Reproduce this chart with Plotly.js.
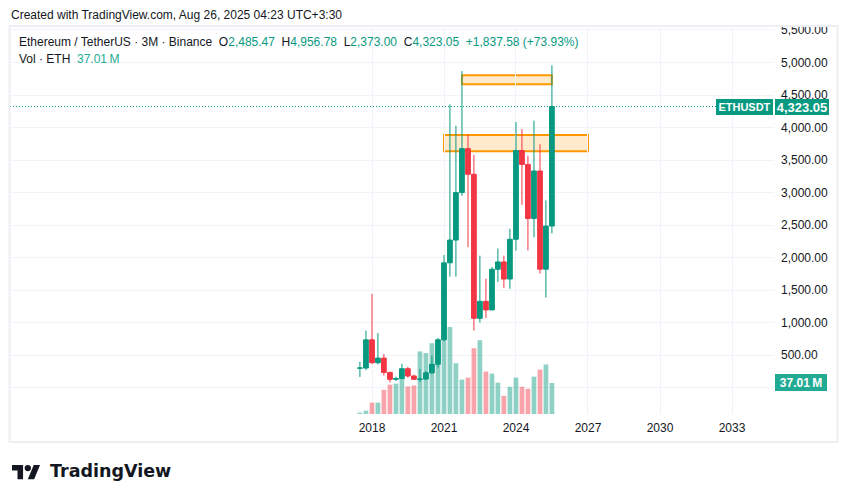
<!DOCTYPE html>
<html>
<head>
<meta charset="utf-8">
<script src="https://cdn.plot.ly/plotly-3.0.1.min.js"></script>
<style>
  html, body { margin: 0; padding: 0; background: #ffffff; }
  #chart { width: 848px; height: 502px; }
</style>
</head>
<body>
<div id="chart"></div>
<script>
// ---------------- DATA (quarterly ETH/USDT, Binance) ----------------
const dates = [
  '2017-07-01','2017-10-01',
  '2018-01-01','2018-04-01','2018-07-01','2018-10-01',
  '2019-01-01','2019-04-01','2019-07-01','2019-10-01',
  '2020-01-01','2020-04-01','2020-07-01','2020-10-01',
  '2021-01-01','2021-04-01','2021-07-01','2021-10-01',
  '2022-01-01','2022-04-01','2022-07-01','2022-10-01',
  '2023-01-01','2023-04-01','2023-07-01','2023-10-01',
  '2024-01-01','2024-04-01','2024-07-01','2024-10-01',
  '2025-01-01','2025-04-01','2025-07-01'
];
const opens = [301, 302, 736, 384, 455, 235, 128, 141, 292, 180, 129, 133, 228, 360,
  737, 1920, 2270, 3000, 3676, 3282, 1067, 1328, 1196, 1821, 1934, 1671,
  2282, 3647, 3433, 2602, 3332, 1822, 2485.47];
const highs = [400, 880, 1440, 840, 518, 245, 170, 369, 320, 200, 288, 255, 488, 764,
  2040, 4356, 4027, 4868, 3896, 3580, 2030, 1678, 1857, 2141, 2029, 2445,
  4085, 3977, 3563, 4107, 3744, 2879, 4956.78];
const lows = [165, 272, 366, 360, 185, 82, 101, 132, 152, 117, 86, 118, 210, 310,
  714, 1707, 1707, 2950, 2160, 880, 1000, 1073, 1190, 1626, 1531, 1521,
  2107, 2810, 2111, 2310, 1754, 1385, 2373];
const closes = [302, 736, 384, 455, 235, 128, 141, 292, 180, 129, 133, 228, 360, 737,
  1920, 2270, 3000, 3676, 3282, 1067, 1328, 1196, 1821, 1934, 1671, 2282,
  3647, 3433, 2602, 3332, 1822, 2485.47, 4323.05];
// volume in millions of ETH
const volumes = [1.6, 4.0, 13.6, 13.6, 28.9, 35.0, 36.2, 42.2, 32.9, 34.1, 74.7, 72.7, 84.4, 83,
  94, 103.7, 60.6, 41.0, 43.4, 78.4, 88.0, 50.6, 48.2, 37.4, 21.7, 32.5,
  43.4, 32.5, 30.1, 44.6, 53.0, 59.1, 37.01];

const timeTickVals = ['2018-01-01','2021-01-01','2024-01-01','2027-01-01','2030-01-01','2033-01-01'];
const timeTickText = ['2018','2021','2024','2027','2030','2033'];
const priceTickVals = [0, 500, 1000, 1500, 2000, 2500, 3000, 3500, 4000, 4500, 5000, 5500];
const priceTickText = ['', '500.00', '1,000.00', '1,500.00', '2,000.00', '2,500.00', '3,000.00',
  '3,500.00', '4,000.00', '4,500.00', '5,000.00', '5,500.00'];

const lastPrice = 4323.05;
const lastVolume = 37.01;
const lastPriceText = '4,323.05';
const lastVolumeText = '37.01\u2009M';
const symbolText = 'ETHUSDT';

// drawn rectangles (zones)
const zoneX0 = ['2021-10-01', '2021-01-01'];
const zoneX1 = ['2025-07-01', '2027-01-01'];
const zoneY0 = [4665, 3635];
const zoneY1 = [4803, 3885];

// ---------------- STYLE / GEOMETRY ----------------
const W = 848, H = 502;
const PL = 10, PR = 774, PT = 25, PB = 414;
const UP = '#089981', DOWN = '#F23645';
const UPV = 'rgba(8,153,129,0.45)', DOWNV = 'rgba(242,54,69,0.45)';
const TXT = '#131722';
const GRID = '#F0F3FA';
const FONT = 'Liberation Sans, Arial, Helvetica, sans-serif';

const px = x => (x - PL) / (PR - PL);
const py = y => (PB - y) / (PB - PT);

const DAY = 86400000;
const YEAR = 365.2425 * DAY;
const t2018 = Date.UTC(2018, 0, 1);
const xRange = [t2018 - (372 - PL) / 24 * YEAR, t2018 + (PR - 372) / 24 * YEAR];
const priceRange = [-404.4, 5576.6];
const volRange = [0, 464];

const volColors = closes.map((c, i) => c >= opens[i] ? UPV : DOWNV);

const volumeTrace = {
  type: 'bar', x: dates, y: volumes, yaxis: 'y', xaxis: 'x',
  width: dates.map(() => 72 * DAY),
  marker: { color: volColors, line: { width: 0 } },
  hoverinfo: 'skip', showlegend: false
};
const candleTrace = {
  type: 'candlestick', x: dates, open: opens, high: highs, low: lows, close: closes,
  xaxis: 'x', yaxis: 'y2', whiskerwidth: 0,
  increasing: { line: { color: UP, width: 1 }, fillcolor: UP },
  decreasing: { line: { color: DOWN, width: 1 }, fillcolor: DOWN },
  hoverinfo: 'skip', showlegend: false
};

// ---------------- SHAPES ----------------
const shapes = [];
for (let i = 0; i < zoneX0.length; i++) {
  shapes.push({
    type: 'rect', xref: 'x', yref: 'y2', layer: 'below',
    x0: zoneX0[i], x1: zoneX1[i], y0: zoneY0[i], y1: zoneY1[i],
    fillcolor: 'rgba(255,152,0,0.2)', line: { color: '#FF9800', width: 2 }
  });
}
shapes.push({
  type: 'line', xref: 'paper', yref: 'y2', layer: 'above',
  x0: 0, x1: px(716), y0: lastPrice, y1: lastPrice,
  line: { color: UP, width: 1, dash: '1px,2px' }
});
// outer frame
shapes.push({
  type: 'rect', xref: 'paper', yref: 'paper', layer: 'above',
  x0: px(9.5), x1: px(837.5), y0: py(442), y1: py(26),
  line: { color: '#EDEFF2', width: 2 }, fillcolor: 'rgba(0,0,0,0)'
});
// TradingView logo
const u = 0.79, ox = 12, oy = 461.8;
const lx = s => px(ox + s * u), ly = s => py(oy + s * u);
const pathOf = pts => 'M' + pts.map(p => lx(p[0]) + ',' + ly(p[1])).join(' L') + ' Z';
shapes.push({ type: 'path', xref: 'paper', yref: 'paper', layer: 'above',
  path: pathOf([[0,4],[14,4],[14,22],[7,22],[7,11],[0,11]]),
  fillcolor: '#131722', line: { width: 0 } });
shapes.push({ type: 'path', xref: 'paper', yref: 'paper', layer: 'above',
  path: pathOf([[20,22],[27.5,4],[35.5,4],[28,22]]),
  fillcolor: '#131722', line: { width: 0 } });
shapes.push({ type: 'circle', xref: 'paper', yref: 'paper', layer: 'above',
  x0: lx(16), x1: lx(24), y0: ly(12), y1: ly(4),
  fillcolor: '#131722', line: { width: 0 } });

// ---------------- ANNOTATIONS ----------------
const g = s => '<span style="color:' + UP + '">' + s + '</span>';
const sp = '\u00A0';
const legendLine = 'Ethereum / TetherUS · 3M · Binance' + sp + sp +
  'O' + g('2,485.47') + sp + sp + 'H' + g('4,956.78') + sp + sp +
  'L' + g('2,373.00') + sp + sp + 'C' + g('4,323.05') + sp + sp +
  g('+1,837.58 (+73.93%)');

const annotations = [
  { xref: 'paper', yref: 'paper', x: px(10), y: py(15), xanchor: 'left', yanchor: 'middle',
    text: 'Created with TradingView.com, Aug 26, 2025 04:23 UTC+3:30', showarrow: false,
    borderpad: 0, font: { family: FONT, size: 12, color: TXT } },
  { xref: 'paper', yref: 'paper', x: px(18), y: py(42), xanchor: 'left', yanchor: 'middle',
    text: legendLine, showarrow: false, borderpad: 0,
    font: { family: FONT, size: 12, color: TXT } },
  { xref: 'paper', yref: 'paper', x: px(18), y: py(59), xanchor: 'left', yanchor: 'middle',
    text: 'Vol · ETH' + sp + sp + '<span style="color:#22AB94">37.01' + '\u2009' + 'M</span>',
    showarrow: false, borderpad: 0, font: { family: FONT, size: 12, color: TXT } },
  { xref: 'paper', yref: 'y2', x: px(744.5), y: lastPrice, xanchor: 'center', yanchor: 'middle',
    text: symbolText, showarrow: false, bgcolor: UP, borderpad: 0, borderwidth: 0,
    width: 57, height: 16, font: { family: FONT, size: 11, color: '#ffffff', weight: 'bold' } },
  { xref: 'paper', yref: 'y2', x: px(802), y: lastPrice, xanchor: 'center', yanchor: 'middle',
    text: lastPriceText, showarrow: false, bgcolor: UP, borderpad: 0, borderwidth: 0,
    width: 54, height: 16, font: { family: FONT, size: 13, color: '#ffffff', weight: 'bold' } },
  { xref: 'paper', yref: 'y', x: px(801), y: lastVolume, xanchor: 'center', yanchor: 'middle',
    text: lastVolumeText, showarrow: false, bgcolor: '#22AB94', borderpad: 0, borderwidth: 0,
    width: 52, height: 17, font: { family: FONT, size: 12, color: '#ffffff', weight: 'bold' } },
  { xref: 'paper', yref: 'paper', x: px(49), y: py(471), xanchor: 'left', yanchor: 'middle',
    text: 'TradingView', showarrow: false, borderpad: 0,
    font: { family: 'DejaVu Sans, sans-serif', size: 17.5, color: '#131722', weight: 'bold' } }
];

const layout = {
  width: W, height: H, autosize: false,
  margin: { l: PL, r: W - PR, t: PT, b: H - PB, pad: 0 },
  paper_bgcolor: '#ffffff', plot_bgcolor: '#ffffff',
  showlegend: false, dragmode: false, hovermode: false,
  boxgap: 0.2, boxgroupgap: 0,
  xaxis: {
    type: 'date', range: xRange, rangeslider: { visible: false },
    tickmode: 'array', tickvals: timeTickVals, ticktext: timeTickText,
    showgrid: true, gridcolor: GRID, gridwidth: 1, zeroline: false, showline: false,
    ticks: '', ticklabelstandoff: 5,
    tickfont: { family: FONT, size: 12, color: TXT }, fixedrange: true
  },
  yaxis: {
    range: volRange, visible: false, showgrid: false, zeroline: false, fixedrange: true
  },
  yaxis2: {
    overlaying: 'y', side: 'right', range: priceRange,
    tickmode: 'array', tickvals: priceTickVals, ticktext: priceTickText,
    showgrid: true, gridcolor: GRID, gridwidth: 1, zeroline: false, showline: false,
    ticks: '', ticklabelstandoff: 6,
    tickfont: { family: FONT, size: 12, color: TXT }, fixedrange: true
  },
  shapes: shapes,
  annotations: annotations
};

Plotly.newPlot('chart', [volumeTrace, candleTrace], layout, { displayModeBar: false, staticPlot: true });
</script>
</body>
</html>
